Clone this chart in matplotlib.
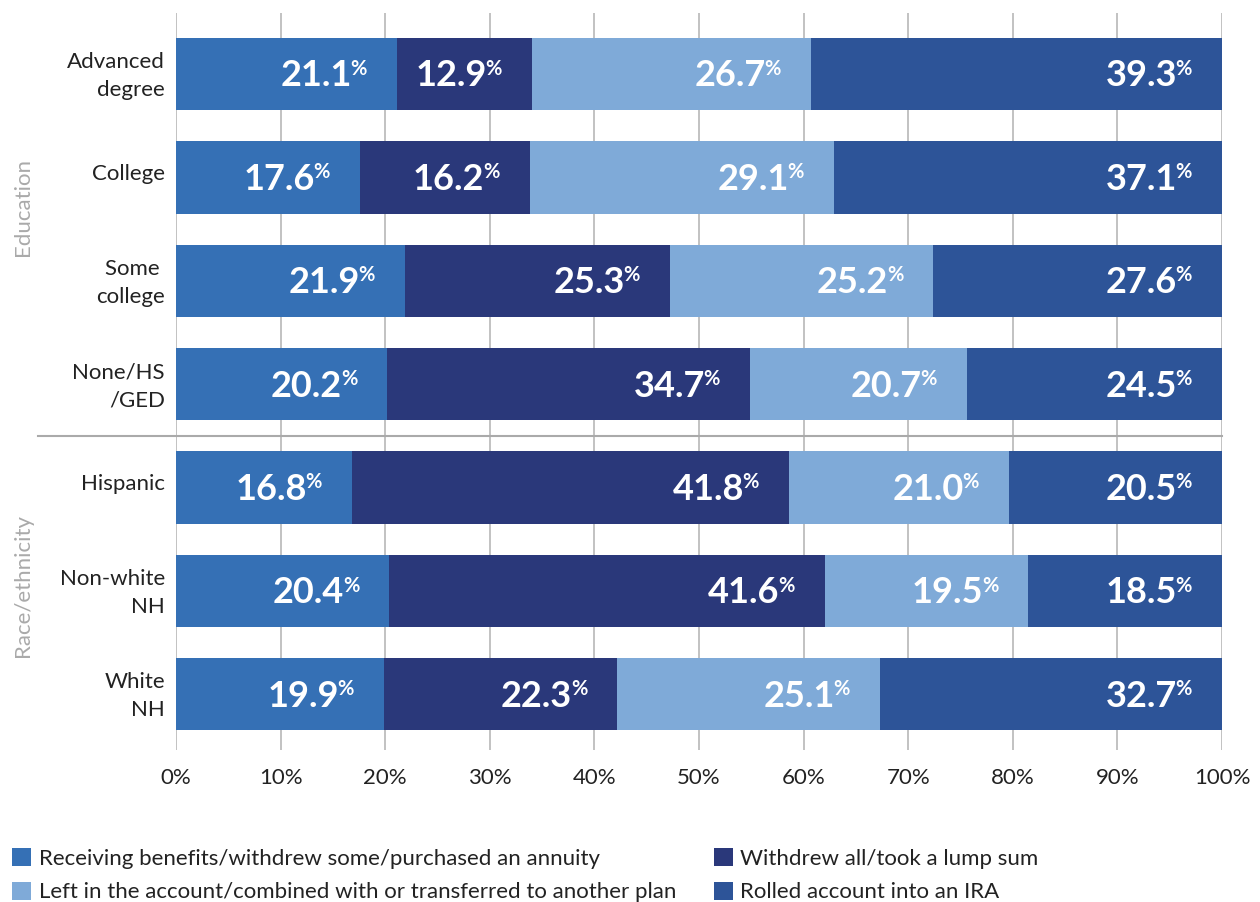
import matplotlib.pyplot as plt
from matplotlib.patches import Patch
import numpy as np

plt.rcParams['font.family'] = ['Lato', 'DejaVu Sans']

# rows, top to bottom
groups = ["Advanced\ndegree", "College", "Some \ncollege", "None/HS\n/GED",
          "Hispanic", "Non-white\nNH", "White\nNH"]

receiving = [21.1, 17.6, 21.9, 20.2, 16.8, 20.4, 19.9]
withdrew_all = [12.9, 16.2, 25.3, 34.7, 41.8, 41.6, 22.3]
left_in = [26.7, 29.1, 25.2, 20.7, 21.0, 19.5, 25.1]
rolled = [39.3, 37.1, 27.6, 24.5, 20.5, 18.5, 32.7]

series_names = ["Receiving benefits/withdrew some/purchased an annuity",
                "Withdrew all/took a lump sum",
                "Left in the account/combined with or transferred to another plan",
                "Rolled account into an IRA"]
colors = ["#3570b5", "#2a387a", "#7faad8", "#2d5498"]

fig = plt.figure(figsize=(12.6, 9.02), dpi=100)
ax = fig.add_axes([176/1260, 1 - 750/902, 1046/1260, 737/902])

y = np.arange(len(groups))
left = np.zeros(len(groups))
for vals, col in zip([receiving, withdrew_all, left_in, rolled], colors):
    vals = np.array(vals)
    ax.barh(y, vals, left=left, height=0.70, color=col, zorder=3)
    for yi, l, v in zip(y, left, vals):
        end = min(l + v, 100)
        ax.annotate("%.1f" % v, xy=(end, yi), xytext=(-32.5, -9),
                    textcoords="offset points", ha="right", va="baseline",
                    color="white", fontsize=26, fontweight="bold", zorder=4,
                    annotation_clip=False)
        ax.annotate("%", xy=(end, yi), xytext=(-33.5, -0.5),
                    textcoords="offset points", ha="left", va="baseline",
                    color="white", fontsize=14.5, fontweight="bold", zorder=4,
                    annotation_clip=False)
    left = left + vals

ax.set_xlim(0, 100)
ax.set_ylim(6.54, -0.59)
ax.set_xticks(np.arange(0, 101, 10))
ax.set_xticklabels(["%d%%" % t for t in range(0, 101, 10)], fontsize=16,
                   color="#222222")
ax.set_yticks(y)
ax.set_yticklabels([])
# category names; one-line names sit a little above the bar centre
for yi, name in zip(y, groups):
    dy = -1.5 if "\n" in name else 2.5
    ax.annotate(name, xy=(0, yi), xytext=(-8, dy), textcoords="offset points",
                ha="right", va="center", fontsize=16, color="#222222",
                linespacing=1.5, annotation_clip=False)
ax.tick_params(axis="both", length=0)
ax.tick_params(axis="x", pad=13)
ax.grid(axis="x", color="#bdbdbd", lw=1.3, zorder=0)
for s in ax.spines.values():
    s.set_visible(False)

# separator between the two groups
ax.axhline(3.5, xmin=(38 - 176) / 1046, xmax=1, color="#aaaaaa", lw=1.5,
           clip_on=False, zorder=2)

tr = ax.get_yaxis_transform()
ax.text(-0.146, 1.29, "Education", transform=tr, rotation=90, ha="center",
        va="center", fontsize=16, color="#aaaaaa")
ax.text(-0.146, 4.95, "Race/ethnicity", transform=tr, rotation=90,
        ha="center", va="center", fontsize=16, color="#aaaaaa")

# legend: order so that ncol=2 fills rows as in the original
order = [0, 2, 1, 3]
handles = [Patch(facecolor=colors[i], label=series_names[i]) for i in order]
fig.legend(handles=handles, loc="upper left",
           bbox_to_anchor=(12/1260, 1 - 848/902), ncol=2, frameon=False,
           fontsize=16, handlelength=0.85, handleheight=0.85,
           handletextpad=0.35, columnspacing=1.7, labelspacing=0.6,
           borderpad=0, borderaxespad=0, labelcolor="#222222")

fig.savefig("out.png", dpi=100)
